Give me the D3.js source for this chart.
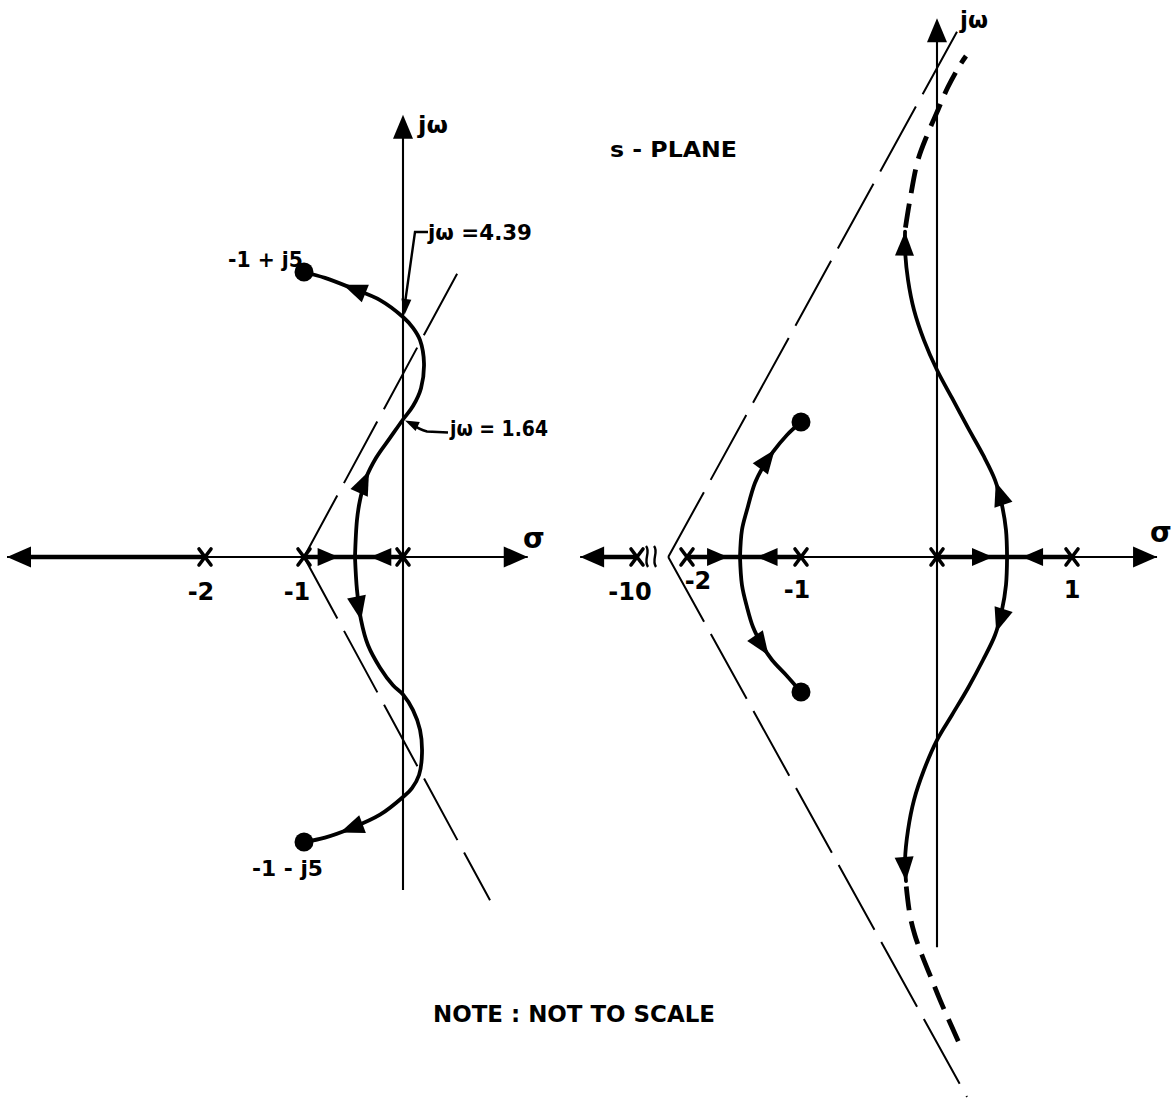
<!DOCTYPE html>
<html>
<head>
<meta charset="utf-8">
<script src="https://cdn.jsdelivr.net/npm/d3@7"></script>
<style>
  html, body { margin: 0; padding: 0; background: #fff; }
  svg { display: block; }
  text { font-family: "DejaVu Sans", "Liberation Sans", sans-serif; font-weight: bold; fill: #000; }
</style>
</head>
<body>
<script>
// ---------------- Left s-plane sketch ----------------
// open-loop poles on the real axis, complex zero pair
const leftPoles = [-2, -1, 0];
const leftZeros = [[-1, 5], [-1, -5]];
const leftTicks = [-2, -1];
// jω-axis crossings of the locus (labelled)
const leftCrossings = [4.39, 1.64];
// real-axis locus segments [from, to]
const leftRealLocus = [[-4, -2], [-1, 0]];
// real-axis direction arrows: [tip σ, direction]
const leftRealArrows = [[-0.65, 1], [-0.33, -1]];
// complex branches, breakaway point -> zero  [σ, ω]
const leftUpperBranch = [[-0.485, 0], [-0.465, 0.44], [-0.434, 0.68], [-0.374, 0.94], [-0.273, 1.18],
  [-0.131, 1.42], [0, 1.64], [0.101, 2.0], [0.182, 2.48], [0.212, 3.15], [0.172, 3.77],
  [0.101, 4.1], [0, 4.39], [-0.232, 4.62], [-0.515, 4.78], [-0.788, 4.92], [-1, 5]];
const leftLowerBranch = [[-0.485, 0], [-0.465, -0.39], [-0.424, -0.75], [-0.354, -1.05], [-0.232, -1.32],
  [-0.101, -1.53], [0, -1.64], [0.101, -2.06], [0.172, -2.59], [0.192, -3.21], [0.162, -3.8],
  [0.091, -4.15], [0, -4.39], [-0.232, -4.63], [-0.535, -4.82], [-0.788, -4.94], [-1, -5]];
const leftAsymptotes = [[[-1, 0], [0.556, 5]], [[-1, 0], [0.879, -5.79]]];
const leftAxisSigma = [-4, 1.26];
const leftAxisOmega = [-5.65, 7.13];

// ---------------- Right s-plane sketch ----------------
const rightPoles = [-10, -2, -1, 0, 1];
const rightZeros = [[-1, 1], [-1, -1]];
const rightTicks = [-10, -2, -1, 1];
const rightRealLocus = [[-19.1, -10], [-2, -1], [0, 1]];
const rightRealArrows = [[-1.64, 1], [-1.39, -1], [0.415, 1], [0.63, -1]];
const rightUpperBranch = [[0.519, 0], [0.511, 0.2], [0.481, 0.385], [0.43, 0.57], [0.341, 0.756],
  [0.23, 0.956], [0.111, 1.178], [0, 1.385], [-0.096, 1.607], [-0.169, 1.83], [-0.213, 2.052],
  [-0.235, 2.274], [-0.235, 2.41]];
const rightUpperTail = [[-0.232, 2.44], [-0.199, 2.644], [-0.14, 2.941], [-0.066, 3.141], [0.007, 3.311],
  [0.081, 3.481], [0.17, 3.644], [0.215, 3.711]];
const rightLowerBranch = [[0.519, 0], [0.511, -0.207], [0.481, -0.393], [0.43, -0.578], [0.341, -0.763],
  [0.23, -0.97], [0.111, -1.17], [0, -1.356], [-0.096, -1.578], [-0.169, -1.8], [-0.213, -2.022],
  [-0.235, -2.244], [-0.228, -2.4]];
const rightLowerTail = [[-0.226, -2.44], [-0.199, -2.652], [-0.163, -2.8], [-0.111, -2.948], [-0.052, -3.096],
  [0.022, -3.281], [0.104, -3.467], [0.17, -3.615]];
const rightInnerUpper = [[-1.535, 0], [-1.518, 0.2], [-1.474, 0.348], [-1.404, 0.548], [-1.333, 0.667],
  [-1.246, 0.778], [-1.123, 0.904], [-1, 1]];
const rightInnerLower = [[-1.535, 0], [-1.518, -0.207], [-1.474, -0.37], [-1.421, -0.519], [-1.342, -0.652],
  [-1.254, -0.763], [-1.123, -0.881], [-1, -1]];
const rightAsymptotes = [[[-5, 0], [0.148, 3.89]], [[-5, 0], [0.222, -4.0]]];
const rightAxisSigma = [-19.1, 1.63];
const rightAxisOmega = [-2.89, 3.99];

const W = 1171, H = 1098;
const svg = d3.select("body").append("svg").attr("width", W).attr("height", H);
svg.append("rect").attr("width", W).attr("height", H).attr("fill", "#fff");

// ---- scales (diagram is not to scale: piecewise-linear mappings) ----
const xL = d3.scaleLinear().domain([-2, 0]).range([205, 403]);
const yL = d3.scaleLinear()
  .domain([-5, -4.39, -1.64, 0, 1.64, 4.39, 5])
  .range([842, 797, 694.5, 557, 419.5, 317, 272]);
const xR = d3.scaleLinear().domain([-10, -2, -1, 0, 1]).range([637, 687, 801, 937, 1072]);
const yR = d3.scaleLinear().domain([0, 1]).range([557, 422]);

const AXIS_W = 2.1, LOCUS_W = 3.8, REAL_W = 4.4, ASYM_W = 2.0;

function arrowHead(g, x, y, a, len, hw) {
  const bx = x - len * Math.cos(a), by = y - len * Math.sin(a);
  const nx = -Math.sin(a) * hw, ny = Math.cos(a) * hw;
  g.append("path")
    .attr("d", `M${x},${y}L${bx + nx},${by + ny}L${bx - nx},${by - ny}Z`)
    .attr("fill", "#000");
}

function arrowOnPath(g, node, frac) {
  const L = node.getTotalLength();
  const s = Math.max(3, frac * L);
  const p = node.getPointAtLength(s), q = node.getPointAtLength(s - 3);
  arrowHead(g, p.x, p.y, Math.atan2(p.y - q.y, p.x - q.x), 24, 9.5);
}

function drawPanel(cfg) {
  const { sx, sy, g } = cfg;
  const y0 = sy(0), x0 = sx(0);
  const curve = d3.line().x(d => sx(d[0])).y(d => sy(d[1])).curve(d3.curveCatmullRom.alpha(0.5));

  // asymptotes (thin, long dashes)
  cfg.asymptotes.forEach(seg => {
    g.append("line")
      .attr("x1", sx(seg[0][0])).attr("y1", sy(seg[0][1]))
      .attr("x2", sx(seg[1][0])).attr("y2", sy(seg[1][1]))
      .attr("stroke", "#000").attr("stroke-width", ASYM_W)
      .attr("stroke-dasharray", cfg.asymDash);
  });

  // jω axis
  const yTop = sy(cfg.axisOmega[1]), yBot = sy(cfg.axisOmega[0]);
  g.append("line").attr("x1", x0).attr("x2", x0).attr("y1", yTop + 18).attr("y2", yBot)
    .attr("stroke", "#000").attr("stroke-width", AXIS_W);
  arrowHead(g, x0, yTop, -Math.PI / 2, 24, 10);

  // σ axis
  cfg.sigmaSegments.forEach(s => {
    g.append("line").attr("x1", sx(s[0])).attr("x2", sx(s[1])).attr("y1", y0).attr("y2", y0)
      .attr("stroke", "#000").attr("stroke-width", AXIS_W);
  });
  const xLeft = sx(cfg.axisSigma[0]), xRight = sx(cfg.axisSigma[1]);
  arrowHead(g, xLeft, y0, Math.PI, 24, 10.5);
  arrowHead(g, xRight, y0, 0, 24, 10.5);

  // real-axis locus segments
  cfg.realLocus.forEach(s => {
    const a = Math.max(sx(s[0]), xLeft + 10);
    g.append("line").attr("x1", a).attr("x2", sx(s[1])).attr("y1", y0).attr("y2", y0)
      .attr("stroke", "#000").attr("stroke-width", REAL_W);
  });
  cfg.realArrows.forEach(r => arrowHead(g, sx(r[0]), y0, r[1] > 0 ? 0 : Math.PI, 21, 9));

  // complex branches
  cfg.branches.forEach(b => {
    const p = g.append("path").attr("d", curve(b.pts)).attr("fill", "none")
      .attr("stroke", "#000").attr("stroke-width", LOCUS_W).attr("stroke-linecap", "round");
    b.arrows.forEach(f => arrowOnPath(g, p.node(), f));
  });
  (cfg.tails || []).forEach(t => {
    g.append("path").attr("d", curve(t)).attr("fill", "none")
      .attr("stroke", "#000").attr("stroke-width", 4.8)
      .attr("stroke-dasharray", "24,11");
  });

  // poles ×
  cfg.poles.forEach(p => {
    const cx = sx(p);
    g.append("path")
      .attr("d", `M${cx - 6},${y0 - 8}L${cx + 6},${y0 + 8}M${cx + 6},${y0 - 8}L${cx - 6},${y0 + 8}`)
      .attr("stroke", "#000").attr("stroke-width", 3.6).attr("stroke-linecap", "round");
  });
  // zeros ●
  cfg.zeros.forEach(z => {
    g.append("circle").attr("cx", sx(z[0])).attr("cy", sy(z[1])).attr("r", 9.5).attr("fill", "#000");
  });
}

const gL = svg.append("g");
drawPanel({
  g: gL, sx: xL, sy: yL,
  asymptotes: leftAsymptotes, asymDash: "70,14",
  axisOmega: leftAxisOmega, axisSigma: leftAxisSigma,
  sigmaSegments: [[leftAxisSigma[0], leftAxisSigma[1]]],
  realLocus: leftRealLocus, realArrows: leftRealArrows,
  branches: [
    { pts: leftUpperBranch, arrows: [0.235, 0.89] },
    { pts: leftLowerBranch, arrows: [0.17, 0.9] }
  ],
  poles: leftPoles, zeros: leftZeros
});

const gR = svg.append("g");
drawPanel({
  g: gR, sx: xR, sy: yR,
  asymptotes: rightAsymptotes, asymDash: "74,14",
  axisOmega: rightAxisOmega, axisSigma: rightAxisSigma,
  sigmaSegments: [[rightAxisSigma[0], -10], [-2, rightAxisSigma[1]]],
  realLocus: rightRealLocus, realArrows: rightRealArrows,
  branches: [
    { pts: rightUpperBranch, arrows: [0.22, 1] },
    { pts: rightLowerBranch, arrows: [0.22, 1] },
    { pts: rightInnerUpper, arrows: [0.75] },
    { pts: rightInnerLower, arrows: [0.68] }
  ],
  tails: [rightUpperTail, rightLowerTail],
  poles: rightPoles, zeros: rightZeros
});

// axis break marks after σ = -10
[10, 18].forEach(dx => {
  const bx = xR(-10) + dx, by = yR(0);
  gR.append("path")
    .attr("d", `M${bx - 1},${by - 11}C${bx + 4},${by - 5} ${bx - 4},${by + 3} ${bx + 1},${by + 10}`)
    .attr("fill", "none").attr("stroke", "#000").attr("stroke-width", 2.4);
});

// ---- text ----
function label(g, str, x, y, size, len, anchor) {
  const t = g.append("text").attr("x", x).attr("y", y).attr("font-size", size)
    .attr("text-anchor", anchor || "start").text(str);
  if (len) t.attr("textLength", len).attr("lengthAdjust", "spacingAndGlyphs");
  return t;
}

// tick labels, centred under/near their poles
const leftTickOffset = { "-2": [-4, 600], "-1": [-7, 600] };
leftTicks.forEach(v => {
  const o = leftTickOffset[String(v)];
  label(gL, String(v), xL(v) + o[0], o[1], 24, null, "middle");
});
const rightTickOffset = { "-10": [-7, 600], "-2": [11, 589], "-1": [-4, 598], "1": [0, 598] };
rightTicks.forEach(v => {
  const o = rightTickOffset[String(v)];
  label(gR, String(v), xR(v) + o[0], o[1], 24, null, "middle");
});

// axis names
label(gL, "σ", 523, 548, 28);
label(gR, "σ", 1150, 542, 28);
label(gL, "jω", xL(0) + 15, 133, 23, 30);
label(gR, "jω", xR(0) + 23, 28, 23, 28);

// zero labels
label(gL, "-1 + j5", 228, 267, 21, 75);
label(gL, "-1 - j5", 252, 876, 21, 71);

// crossing annotations with leaders
const c1 = [xL(0), yL(leftCrossings[0])];
gL.append("path")
  .attr("d", `M${c1[0] + 25},${232}L${c1[0] + 12},${232}L${c1[0] + 2},${c1[1] - 14}`)
  .attr("fill", "none").attr("stroke", "#000").attr("stroke-width", 2.4);
arrowHead(gL, c1[0] + 1.5, c1[1] - 2, Math.atan2(c1[1] - 232, -10), 16, 5);
label(gL, "jω =4.39", c1[0] + 25, 240, 21, 104);

const c2 = [xL(0), yL(leftCrossings[1])];
gL.append("path")
  .attr("d", `M${c2[0] + 45},${c2[1] + 13}L${c2[0] + 24},${c2[1] + 12}Q${c2[0] + 16},${c2[1] + 10} ${c2[0] + 10},${c2[1] + 5}`)
  .attr("fill", "none").attr("stroke", "#000").attr("stroke-width", 2.4);
arrowHead(gL, c2[0] + 2, c2[1] + 1, Math.atan2(-7, -15), 14, 5);
label(gL, "jω = 1.64", c2[0] + 47, 436, 21, 98);

label(svg, "s - PLANE", 610, 157, 21, 127);
label(svg, "NOTE : NOT TO SCALE", 433, 1022, 23, 282);
</script>
</body>
</html>
